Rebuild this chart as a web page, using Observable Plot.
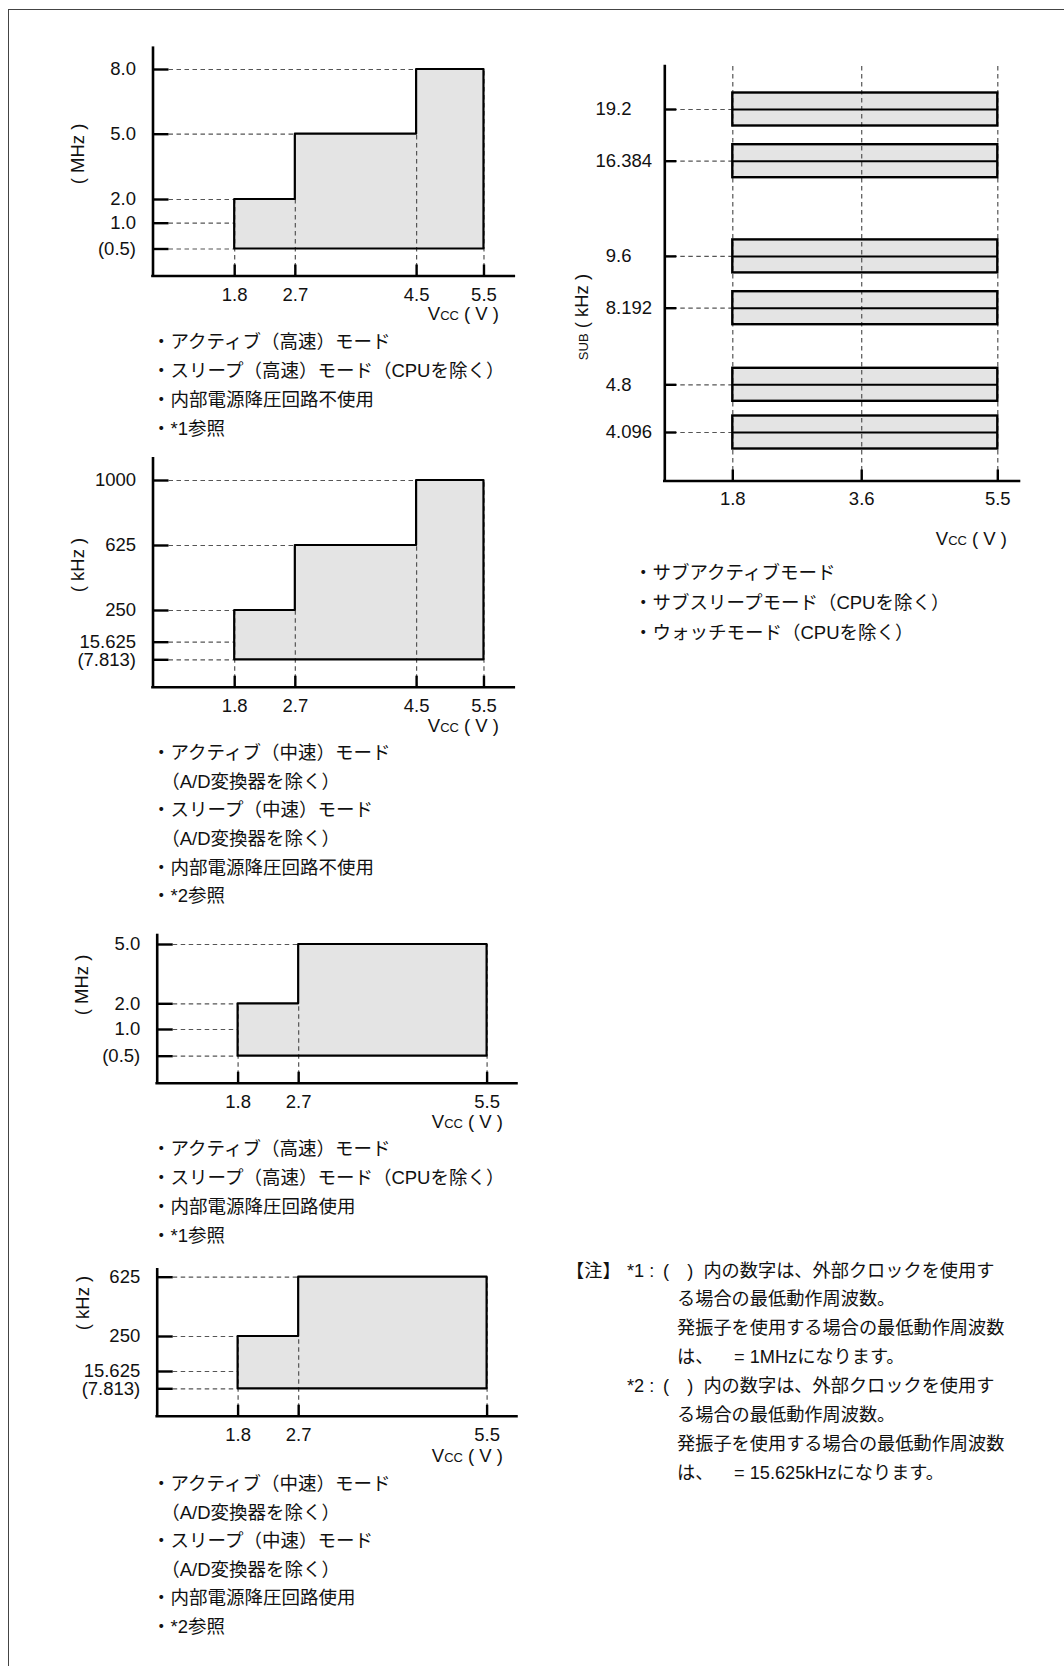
<!DOCTYPE html>
<html><head><meta charset="utf-8">
<script src="https://cdn.jsdelivr.net/npm/d3@7"></script>
<script src="https://cdn.jsdelivr.net/npm/@observablehq/plot@0.6"></script>
<style>
html,body{margin:0;padding:0;background:#fff;}
#page{position:relative;width:1064px;height:1666px;overflow:hidden;font-family:"Liberation Sans",Arial,"Noto Sans CJK JP",sans-serif;color:#111;}
#frame{position:absolute;left:8px;top:9px;right:-2px;bottom:-2px;border-top:1px solid #444;border-left:1px solid #444;}
.blk{position:absolute;white-space:pre;font-size:18.5px;line-height:29px;}
.note{position:absolute;white-space:pre;font-size:18.2px;line-height:29px;}
.vcc{position:absolute;white-space:pre;font-size:18.5px;line-height:20px;}
.vcc small,.ytitle small{font-size:13px;}
.ytitle{position:absolute;white-space:pre;font-size:18.5px;line-height:20px;transform:translate(-50%,-50%) rotate(-90deg);}
</style></head><body><div id="page"><div id="frame"></div></div>
<script>
// ---------- data ----------
const vcc4 = [1.8, 2.7, 4.5, 5.5];
const vcc3 = [1.8, 2.7, 5.5];
const vccSub = [1.8, 3.6, 5.5];

// high-speed, regulator off (MHz)
const hsTicks = [8.0, 5.0, 2.0, 1.0, 0.5];
const hsLabels = ["8.0", "5.0", "2.0", "1.0", "(0.5)"];
const hsLevels = [2.0, 5.0, 8.0, 8.0];
const hsMin = 0.5;

// medium-speed, regulator off (kHz)
const msTicks = [1000, 625, 250, 15.625, 7.813];
const msLabels = ["1000", "625", "250", "15.625", "(7.813)"];
const msLevels = [250, 625, 1000, 1000];
const msMin = 7.813;

// high-speed, regulator on (MHz)
const hsRegTicks = [5.0, 2.0, 1.0, 0.5];
const hsRegLabels = ["5.0", "2.0", "1.0", "(0.5)"];
const hsRegLevels = [2.0, 5.0, 5.0];
const hsRegMin = 0.5;

// medium-speed, regulator on (kHz)
const msRegTicks = [625, 250, 15.625, 7.813];
const msRegLabels = ["625", "250", "15.625", "(7.813)"];
const msRegLevels = [250, 625, 625];
const msRegMin = 7.813;

// sub clock (kHz)
const subFreqs = [19.2, 16.384, 9.6, 8.192, 4.8, 4.096];
const subLabels = ["19.2", "16.384", "9.6", "8.192", "4.8", "4.096"];
const subVmin = 1.8, subVmax = 5.5;

// ---------- layout ----------
const FONT = '"Liberation Sans", Arial, "Noto Sans CJK JP", sans-serif';
const page = document.getElementById("page");
const DASH = {stroke: "#555", strokeWidth: 1.2, strokeDasharray: "4.5,3.5"};
const FILL = "#e4e4e4";

function place(svg, left, top) {
  svg.style.position = "absolute";
  svg.style.left = left + "px";
  svg.style.top = top + "px";
  svg.style.overflow = "visible";
  page.appendChild(svg);
}

function stepChart(c) {
  const left = 0, W = 530;
  const H = c.axisY - c.top + 34;
  const mt = c.frameTop - c.top, mb = H - (c.axisY - c.top);
  const ml = c.axisX - left, mr = W - (c.rightX - left);
  const plotW = W - ml - mr, plotH = H - mt - mb;
  const yRange = c.yPx.map(p => p - c.top);
  const yLo = c.yDom[0], xLo = c.xDom[0];
  const n = c.vcc.length;
  const rows = c.vcc.map((x, i) => ({x, level: c.levels[i]}));
  const vrows = c.vcc.map((x, i) => ({
    x,
    h: i === 0 ? c.levels[0] : i === n - 1 ? c.levels[n - 2] : Math.min(c.levels[i - 1], c.levels[i])
  }));
  const edgeX = v => c.vcc[c.levels.findIndex(l => l >= v - 1e-9)];
  const svg = Plot.plot({
    width: W, height: H,
    marginTop: mt, marginBottom: mb, marginLeft: ml, marginRight: mr,
    x: {domain: c.xDom, axis: null},
    y: {type: "linear", domain: c.yDom, range: yRange, axis: null},
    style: {fontFamily: FONT, color: "#111", background: "transparent"},
    marks: [
      Plot.areaY(rows, {x: "x", y1: c.min, y2: "level", curve: "step-after", fill: FILL}),
      Plot.ruleY(c.ticks, {y: d => d, x1: xLo, x2: d => edgeX(d), ...DASH}),
      Plot.ruleX(vrows, {x: "x", y1: yLo, y2: "h", ...DASH}),
      Plot.areaY(rows, {x: "x", y1: c.min, y2: "level", curve: "step-after", fill: "none", stroke: "#000", strokeWidth: 2.2}),
      Plot.tickY(c.ticks, {y: d => d, insetRight: plotW - 16, stroke: "#000", strokeWidth: 2.4}),
      Plot.tickX(c.vcc, {x: d => d, insetTop: plotH - 11, stroke: "#000", strokeWidth: 2.4}),
      Plot.ruleX([xLo], {stroke: "#000", strokeWidth: 2.6, strokeLinecap: "square"}),
      Plot.ruleY([yLo], {stroke: "#000", strokeWidth: 2.6, strokeLinecap: "square"}),
      Plot.text(c.ticks, {x: xLo, y: d => d, text: (d, i) => c.labels[i], textAnchor: "end", dx: -17, fontSize: 18.5}),
      Plot.text(c.vcc, {x: d => d, y: yLo, text: d => d.toFixed(1), dy: 19, fontSize: 18.5})
    ]
  });
  place(svg, left, c.top);
}

stepChart({vcc: vcc4, levels: hsLevels, min: hsMin, ticks: hsTicks, labels: hsLabels,
  top: 30, frameTop: 47.7, axisY: 275.5, axisX: 152.5, rightX: 513.8, xDom: [0.5875, 5.95],
  yDom: [0, 0.5, 1, 2, 5, 8, 9], yPx: [275.5, 248.5, 222.7, 199, 133.7, 69, 47.7]});
stepChart({vcc: vcc4, levels: msLevels, min: msMin, ticks: msTicks, labels: msLabels,
  top: 440, frameTop: 458.3, axisY: 686.7, axisX: 152.5, rightX: 513.8, xDom: [0.5875, 5.95],
  yDom: [0, 7.813, 15.625, 250, 625, 1000, 1100], yPx: [686.7, 659.3, 641.7, 610, 545, 480, 458.3]});
stepChart({vcc: vcc3, levels: hsRegLevels, min: hsRegMin, ticks: hsRegTicks, labels: hsRegLabels,
  top: 920, frameTop: 935, axisY: 1082.7, axisX: 156.7, rightX: 516.5, xDom: [0.598, 5.944],
  yDom: [0, 0.5, 1, 2, 5, 5.5], yPx: [1082.7, 1055.7, 1029, 1003.3, 944, 935]});
stepChart({vcc: vcc3, levels: msRegLevels, min: msRegMin, ticks: msRegTicks, labels: msRegLabels,
  top: 1255, frameTop: 1269.3, axisY: 1415.7, axisX: 156.7, rightX: 516.5, xDom: [0.598, 5.944],
  yDom: [0, 7.813, 15.625, 250, 625, 700], yPx: [1415.7, 1388.3, 1371, 1336, 1276.7, 1269.3]});

// sub-clock chart
(function () {
  const left = 540, top = 40, W = 524;
  const axisX = 664.3, rightX = 1019, frameTop = 66, axisY = 480.5;
  const H = axisY - top + 34;
  const mt = frameTop - top, mb = H - (axisY - top);
  const ml = axisX - left, mr = W - (rightX - left);
  const plotW = W - ml - mr, plotH = H - mt - mb;
  const xDom = [0.8506, 5.803];
  const yDom = [0, 4.096, 4.8, 8.192, 9.6, 16.384, 19.2, 22];
  const yPx = [480.5, 432, 384.3, 307.7, 255.9, 160.7, 109, 66];
  const xLo = xDom[0], yLo = yDom[0];
  const half = 16.5;
  const intPart = subLabels.map(s => s.slice(0, s.indexOf(".") + 1));
  const fracPart = subLabels.map(s => s.slice(s.indexOf(".") + 1));
  const svg = Plot.plot({
    width: W, height: H,
    marginTop: mt, marginBottom: mb, marginLeft: ml, marginRight: mr,
    x: {domain: xDom, axis: null},
    y: {type: "linear", domain: yDom, range: yPx.map(p => p - top), axis: null},
    style: {fontFamily: FONT, color: "#111", background: "transparent"},
    marks: [
      Plot.rect(subFreqs, {x1: subVmin, x2: subVmax, y1: d => d, y2: d => d, insetTop: -half, insetBottom: -half, fill: FILL}),
      Plot.ruleX(vccSub, {x: d => d, ...DASH}),
      Plot.ruleY(subFreqs, {y: d => d, x1: xLo, x2: subVmin, ...DASH}),
      Plot.rect(subFreqs, {x1: subVmin, x2: subVmax, y1: d => d, y2: d => d, insetTop: -half, insetBottom: -half, fill: "none", stroke: "#000", strokeWidth: 2.4}),
      Plot.ruleY(subFreqs, {y: d => d, x1: subVmin, x2: subVmax, stroke: "#000", strokeWidth: 2}),
      Plot.tickY(subFreqs, {y: d => d, insetRight: plotW - 12, stroke: "#000", strokeWidth: 2.4}),
      Plot.tickX(vccSub, {x: d => d, insetTop: plotH - 11, stroke: "#000", strokeWidth: 2.4}),
      Plot.ruleX([xLo], {stroke: "#000", strokeWidth: 2.6, strokeLinecap: "square"}),
      Plot.ruleY([yLo], {stroke: "#000", strokeWidth: 2.6, strokeLinecap: "square"}),
      Plot.text(subFreqs, {x: xLo, y: d => d, text: (d, i) => intPart[i], textAnchor: "end", dx: -43.6, fontSize: 18.5}),
      Plot.text(subFreqs, {x: xLo, y: d => d, text: (d, i) => fracPart[i], textAnchor: "start", dx: -43.6, fontSize: 18.5}),
      Plot.text(vccSub, {x: d => d, y: yLo, text: d => d.toFixed(1), dy: 18.5, fontSize: 18.5})
    ]
  });
  place(svg, left, top);
})();

// ---------- text blocks ----------
function block(lines, left, firstCenter, lh = 29) {
  const d = document.createElement("div");
  d.className = "blk";
  d.style.left = left + "px";
  d.style.top = (firstCenter - lh / 2) + "px";
  d.style.lineHeight = lh + "px";
  d.textContent = lines.join("\n");
  page.appendChild(d);
}
function vcc(right, centerY) {
  const d = document.createElement("div");
  d.className = "vcc";
  d.style.right = (1064 - right) + "px";
  d.style.top = (centerY - 10) + "px";
  d.innerHTML = "V<small>CC</small> ( V )";
  page.appendChild(d);
}
function ytitle(html, cx, cy) {
  const d = document.createElement("div");
  d.className = "ytitle";
  d.style.left = cx + "px";
  d.style.top = cy + "px";
  d.innerHTML = html;
  page.appendChild(d);
}

ytitle("( MHz )", 78, 154);
ytitle("( kHz )", 78, 565);
ytitle("( MHz )", 82, 985);
ytitle("( kHz )", 82.5, 1303);
ytitle("<small>SUB</small> ( kHz )", 582.5, 317);

vcc(499, 314);
vcc(499, 726);
vcc(503, 1121.5);
vcc(503, 1456);
vcc(1007, 539.3);

block(["・アクティブ（高速）モード", "・スリープ（高速）モード（CPUを除く）", "・内部電源降圧回路不使用", "・*1参照"], 152, 341.7);
block(["・アクティブ（中速）モード", "　（A/D変換器を除く）", "・スリープ（中速）モード", "　（A/D変換器を除く）", "・内部電源降圧回路不使用", "・*2参照"], 152, 753.3, 28.7);
block(["・アクティブ（高速）モード", "・スリープ（高速）モード（CPUを除く）", "・内部電源降圧回路使用", "・*1参照"], 152, 1148.3);
block(["・アクティブ（中速）モード", "　（A/D変換器を除く）", "・スリープ（中速）モード", "　（A/D変換器を除く）", "・内部電源降圧回路使用", "・*2参照"], 152, 1484.3, 28.6);
block(["・サブアクティブモード", "・サブスリープモード（CPUを除く）", "・ウォッチモード（CPUを除く）"], 634, 573.3, 29.7);

// notes
const noteLH = 29, noteTop = 1271;
function noteAt(text, left, line) {
  const d = document.createElement("div");
  d.className = "note";
  d.style.left = left + "px";
  d.style.top = (noteTop + line * 28.9 - noteLH / 2) + "px";
  d.textContent = text;
  page.appendChild(d);
}
noteAt("【注】", 566, 0);
noteAt("*1 :", 627, 0);
noteAt("(　)  内の数字は、外部クロックを使用す", 663, 0);
noteAt("る場合の最低動作周波数。", 677, 1);
noteAt("発振子を使用する場合の最低動作周波数", 677, 2);
noteAt("は、", 677, 3);
noteAt("= 1MHzになります。", 734, 3);
noteAt("*2 :", 627, 4);
noteAt("(　)  内の数字は、外部クロックを使用す", 663, 4);
noteAt("る場合の最低動作周波数。", 677, 5);
noteAt("発振子を使用する場合の最低動作周波数", 677, 6);
noteAt("は、", 677, 7);
noteAt("= 15.625kHzになります。", 734, 7);
</script></body></html>
